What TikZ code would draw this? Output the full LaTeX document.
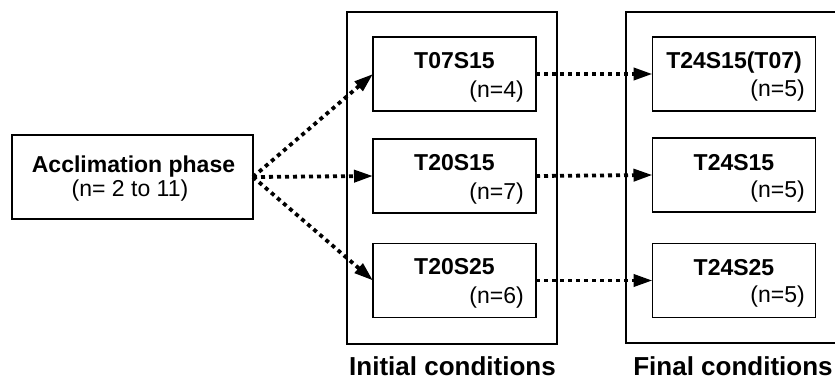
\documentclass[tikz,border=0pt]{standalone}
\usepackage{fontspec}
\setmainfont{Liberation Sans}
\usetikzlibrary{arrows.meta}
\tikzset{
  boxfont/.style={font=\fontsize{23}{27}\selectfont},
  titlefont/.style={font=\fontsize{23}{27}\selectfont\bfseries},
  labelfont/.style={font=\fontsize{26}{30}\selectfont\bfseries},
  accbox/.style={draw, line width=2.6pt, minimum width=241pt, minimum height=84pt, outer sep=0pt, inner sep=0pt},
  outerbox/.style={draw, line width=2.6pt, outer sep=0pt, inner sep=0pt},
  innerbox/.style={draw, line width=1.3pt, minimum width=163pt, minimum height=74pt, outer sep=0pt, inner sep=0pt},
  txt/.style={anchor=base, inner sep=0pt},
  ntxt/.style={anchor=base east, inner sep=0pt},
  flow/.style={line width=3.8pt, dash pattern=on 4pt off 4pt, -{Triangle[length=19pt,width=12pt]}},
}
\begin{document}
\begin{tikzpicture}[x=1pt,y=-1pt]
\useasboundingbox (0,0) rectangle (835,380);
% outer group boxes
\node[outerbox, minimum width=210pt, minimum height=332pt] (initbox) at (452,178) {};
\node[outerbox, minimum width=216pt, minimum height=331pt] (finalbox) at (734,177.5) {};
% acclimation
\node[accbox] (acc) at (132.5,177) {};
\node[txt, titlefont] (acct) at (133.5,172.7) {Acclimation phase};
\node[txt, boxfont] (accn) at (130,196.7) {(n= 2 to 11)};
% initial condition boxes
\node[innerbox] (i1) at (454.5,74) {};
\node[innerbox] (i2) at (454.5,176) {};
\node[innerbox] (i3) at (454.5,280.5) {};
\node[txt, titlefont] (i1t) at (454.5,68) {T07S15};
\node[ntxt, boxfont] (i1n) at (524,97) {(n=4)};
\node[txt, titlefont] (i2t) at (454.5,170) {T20S15};
\node[ntxt, boxfont] (i2n) at (524,199) {(n=7)};
\node[txt, titlefont] (i3t) at (454.5,274.5) {T20S25};
\node[ntxt, boxfont] (i3n) at (524,303.5) {(n=6)};
% final condition boxes
\node[innerbox] (f1) at (734,74) {};
\node[innerbox] (f2) at (734,175) {};
\node[innerbox] (f3) at (734,280.5) {};
\node[txt, titlefont] (f1t) at (734,68) {T24S15(T07)};
\node[ntxt, boxfont] (f1n) at (805,96) {(n=5)};
\node[txt, titlefont] (f2t) at (734,170) {T24S15};
\node[ntxt, boxfont] (f2n) at (805,197) {(n=5)};
\node[txt, titlefont] (f3t) at (734,275.5) {T24S25};
\node[ntxt, boxfont] (f3n) at (805,302.5) {(n=5)};
% labels
\node[txt, labelfont] (initlab) at (452.5,375) {Initial conditions};
\node[txt, labelfont] (finallab) at (733,375) {Final conditions};
% arrows
\draw[flow] (acc.east) -- (i1.west);
\draw[flow] (acc.east) -- (i2.west);
\draw[flow] (acc.east) -- (i3.west);
\draw[flow] (i1.east) -- (f1.west);
\draw[flow] (i2.east) -- (f2.west);
\draw[flow] (i3.east) -- (f3.west);
\end{tikzpicture}
\end{document}
